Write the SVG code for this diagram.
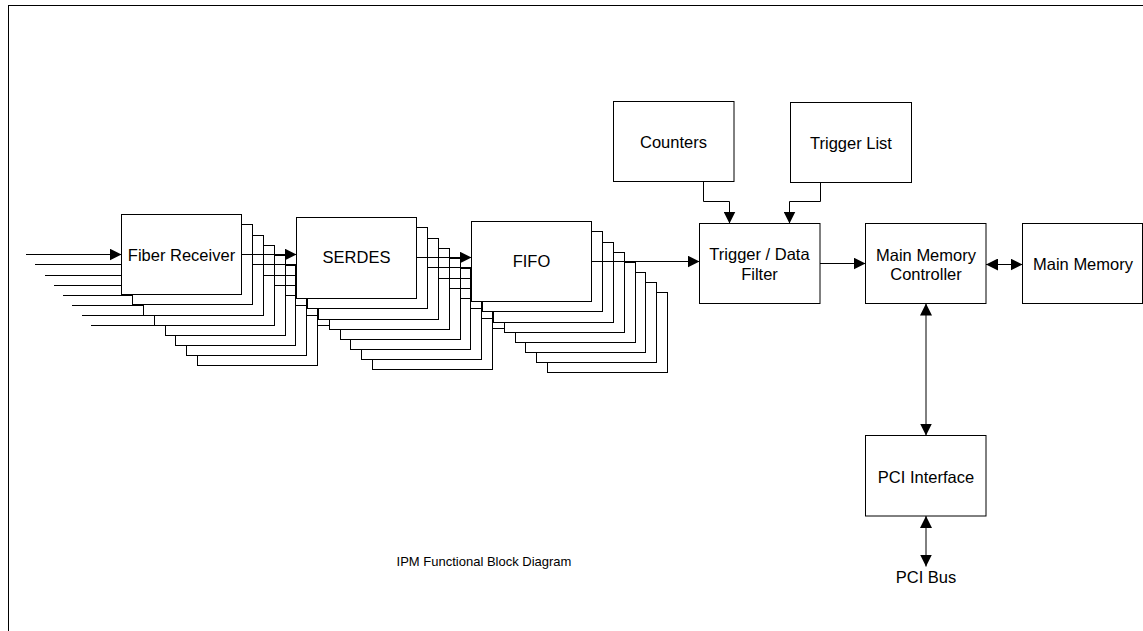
<svg xmlns="http://www.w3.org/2000/svg" width="1143" height="631" viewBox="0 0 1143 631">
  <style>
    .box { fill: #fff; stroke: #000; stroke-width: 1; }
    .wire { fill: none; stroke: #000; stroke-width: 1; }
    .lbl { font-family: "Liberation Sans", Arial, sans-serif; font-size: 16.5px; fill: #000; text-anchor: middle; }
    .cap { font-family: "Liberation Sans", Arial, sans-serif; font-size: 13px; fill: #000; text-anchor: middle; }
    .frame { fill: none; stroke: #000; stroke-width: 1; }
  </style>
  <defs>
    <marker id="arrow" markerUnits="userSpaceOnUse" markerWidth="12" markerHeight="12" refX="12" refY="6" orient="auto-start-reverse">
      <path d="M0,0 L12,6 L0,12 z" fill="#000"/>
    </marker>
  </defs>

  <rect class="frame" x="8.5" y="5.5" width="1200" height="700"/>

  <!-- fibre inputs, one per receiver channel -->
  <g id="conn-inputs" class="connectors">
    <path class="wire" marker-end="url(#arrow)" d="M26,254.5 H121.5"/>
    <path class="wire" marker-end="url(#arrow)" d="M35,264.5 H132.5"/>
    <path class="wire" marker-end="url(#arrow)" d="M45,275.5 H143.5"/>
    <path class="wire" marker-end="url(#arrow)" d="M54,285.5 H154.5"/>
    <path class="wire" marker-end="url(#arrow)" d="M63,295.5 H165.5"/>
    <path class="wire" marker-end="url(#arrow)" d="M72,305.5 H175.5"/>
    <path class="wire" marker-end="url(#arrow)" d="M82,315.5 H186.5"/>
    <path class="wire" marker-end="url(#arrow)" d="M91,325.5 H197.5"/>
  </g>

  <!-- fiber receiver stack, back to front -->
  <g id="fiber-receiver">
    <rect class="box" x="197.5" y="285.5" width="120" height="80"/>
    <rect class="box" x="186.5" y="275.5" width="120" height="80"/>
    <rect class="box" x="175.5" y="265.5" width="120" height="80"/>
    <rect class="box" x="165.5" y="255.5" width="120" height="80"/>
    <rect class="box" x="154.5" y="245.5" width="120" height="80"/>
    <rect class="box" x="143.5" y="235.5" width="120" height="80"/>
    <rect class="box" x="132.5" y="224.5" width="120" height="80"/>
    <rect class="box" x="121.5" y="214.5" width="120" height="80"/>
    <text class="lbl" x="181.5" y="260.5">Fiber Receiver</text>
  </g>

  <g id="conn-fiber-serdes" class="connectors">
    <path class="wire" marker-end="url(#arrow)" d="M241.5,254.5 H296.5"/>
    <path class="wire" marker-end="url(#arrow)" d="M252.5,264.5 H307.5"/>
    <path class="wire" marker-end="url(#arrow)" d="M263.5,275.5 H318.5"/>
    <path class="wire" marker-end="url(#arrow)" d="M274.5,285.5 H329.5"/>
    <path class="wire" marker-end="url(#arrow)" d="M285.5,295.5 H340.5"/>
    <path class="wire" marker-end="url(#arrow)" d="M295.5,305.5 H350.5"/>
    <path class="wire" marker-end="url(#arrow)" d="M306.5,315.5 H361.5"/>
    <path class="wire" marker-end="url(#arrow)" d="M317.5,325.5 H372.5"/>
  </g>

  <!-- SERDES stack -->
  <g id="serdes">
    <rect class="box" x="372.5" y="288.5" width="120" height="81"/>
    <rect class="box" x="361.5" y="278.5" width="120" height="81"/>
    <rect class="box" x="350.5" y="268.5" width="120" height="81"/>
    <rect class="box" x="340.5" y="258.5" width="120" height="81"/>
    <rect class="box" x="329.5" y="248.5" width="120" height="81"/>
    <rect class="box" x="318.5" y="238.5" width="120" height="81"/>
    <rect class="box" x="307.5" y="227.5" width="120" height="81"/>
    <rect class="box" x="296.5" y="217.5" width="120" height="81"/>
    <text class="lbl" x="356.5" y="262.5">SERDES</text>
  </g>

  <g id="conn-serdes-fifo" class="connectors">
    <path class="wire" marker-end="url(#arrow)" d="M416.5,257.5 H471.5"/>
    <path class="wire" marker-end="url(#arrow)" d="M427.5,267.5 H482.5"/>
    <path class="wire" marker-end="url(#arrow)" d="M438.5,278.5 H493.5"/>
    <path class="wire" marker-end="url(#arrow)" d="M449.5,288.5 H504.5"/>
    <path class="wire" marker-end="url(#arrow)" d="M460.5,298.5 H515.5"/>
    <path class="wire" marker-end="url(#arrow)" d="M470.5,308.5 H525.5"/>
    <path class="wire" marker-end="url(#arrow)" d="M481.5,318.5 H536.5"/>
    <path class="wire" marker-end="url(#arrow)" d="M492.5,328.5 H547.5"/>
  </g>

  <!-- FIFO stack -->
  <g id="fifo">
    <rect class="box" x="547.5" y="292.5" width="120" height="80"/>
    <rect class="box" x="536.5" y="282.5" width="120" height="80"/>
    <rect class="box" x="525.5" y="272.5" width="120" height="80"/>
    <rect class="box" x="515.5" y="262.5" width="120" height="80"/>
    <rect class="box" x="504.5" y="252.5" width="120" height="80"/>
    <rect class="box" x="493.5" y="242.5" width="120" height="80"/>
    <rect class="box" x="482.5" y="231.5" width="120" height="80"/>
    <rect class="box" x="471.5" y="221.5" width="120" height="80"/>
    <text class="lbl" x="531.5" y="267">FIFO</text>
  </g>

  <!-- remaining data path -->
  <g id="connectors" class="connectors">
    <path class="wire" marker-end="url(#arrow)" d="M591.5,261.5 H699.5"/>
    <path class="wire" marker-end="url(#arrow)" d="M703.5,182 V201.5 H729.5 V223.5"/>
    <path class="wire" marker-end="url(#arrow)" d="M820.5,182.5 V201.5 H789.5 V223.5"/>
    <path class="wire" marker-end="url(#arrow)" d="M820,263.5 H865.5"/>
    <path class="wire" marker-start="url(#arrow)" marker-end="url(#arrow)" d="M986,264.5 H1022.5"/>
    <path class="wire" marker-start="url(#arrow)" marker-end="url(#arrow)" d="M926,303.5 V435.5"/>
    <path class="wire" marker-start="url(#arrow)" marker-end="url(#arrow)" d="M926,516 V566.5"/>
  </g>

  <g id="counters">
    <rect class="box" x="613.5" y="101.5" width="120.5" height="80"/>
    <text class="lbl" x="673.5" y="147.5">Counters</text>
  </g>

  <g id="trigger-list">
    <rect class="box" x="790.5" y="102.5" width="121" height="80"/>
    <text class="lbl" x="851" y="148.5">Trigger List</text>
  </g>

  <g id="trigger-filter">
    <rect class="box" x="699.5" y="223.5" width="120.5" height="80"/>
    <text class="lbl" x="759.5" y="259.5">Trigger / Data</text>
    <text class="lbl" x="759.5" y="279.5">Filter</text>
  </g>

  <g id="memory-controller">
    <rect class="box" x="865.5" y="223.5" width="120.5" height="80"/>
    <text class="lbl" x="926" y="261">Main Memory</text>
    <text class="lbl" x="926" y="280">Controller</text>
  </g>

  <g id="main-memory">
    <rect class="box" x="1022.5" y="223.5" width="120" height="80"/>
    <text class="lbl" x="1083" y="270">Main Memory</text>
  </g>

  <g id="pci-interface">
    <rect class="box" x="865.5" y="435.5" width="120.5" height="80.5"/>
    <text class="lbl" x="926" y="482.5">PCI Interface</text>
  </g>

  <g id="pci-bus">
    <text class="lbl" x="926" y="582.5">PCI Bus</text>
  </g>

  <text class="cap" x="484" y="566">IPM Functional Block Diagram</text>
</svg>
